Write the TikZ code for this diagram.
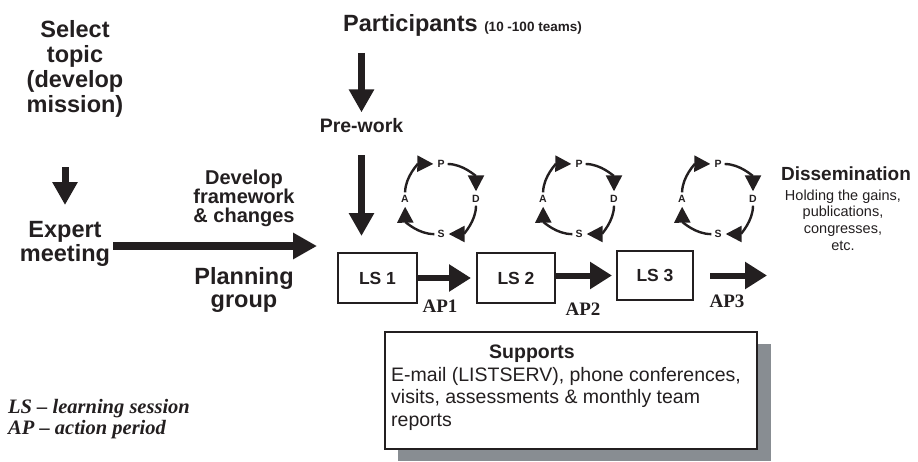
\documentclass[tikz,border=0pt]{standalone}
\usepackage{fontspec}
\setmainfont{Liberation Sans}
\newfontfamily\timesfont{Liberation Serif}
\usetikzlibrary{arrows.meta}
\definecolor{ink}{RGB}{35,31,32}
\definecolor{shadowgray}{RGB}{136,141,146}
\begin{document}
\begin{tikzpicture}[x=1pt,y=1pt,
  every node/.style={inner sep=0pt, text=ink},
  bigtxt/.style={font={\bfseries\fontsize{23.5}{25}\selectfont}, align=center},
  midtxt/.style={font={\bfseries\fontsize{20}{18.5}\selectfont}, align=center},
  lsbox/.style={draw=ink, line width=2, font={\bfseries\fontsize{17.5}{20}\selectfont}},
  aplab/.style={font={\timesfont\bfseries\fontsize{19}{22}\selectfont}},
  cyc/.style={circle, minimum size=13pt, font={\bfseries\fontsize{10.5}{12}\selectfont}},
  cycarrow/.style={draw=ink, line width=2.4, -{Triangle[length=16pt,width=16pt]}, shorten >=1pt},
  varrow/.style={draw=ink, line width=7, -{Triangle[length=23pt,width=24pt]}},
  hbig/.style={draw=ink, line width=8, -{Triangle[length=24pt,width=25pt]}},
  lsarrow/.style={draw=ink, line width=6, -{Triangle[length=22pt,width=26pt]}}
]
\useasboundingbox (0,0) rectangle (918,-461);

% left column
\node[bigtxt, anchor=north] (sel) at (75,-19.8) {Select\\topic\\(develop\\mission)};
\node[bigtxt, font={\bfseries\fontsize{23.5}{24}\selectfont}, anchor=north] (expert) at (65,-221) {Expert\\meeting};
\draw[varrow, shorten <=50pt, shorten >=16pt] (expert.north |- sel.south) -- (expert.north);

% planning
\node[midtxt, anchor=north] (devfw) at (244,-169.4) {Develop\\framework\\\& changes};
\node[bigtxt, font={\bfseries\fontsize{23.5}{23}\selectfont}, anchor=north] (plan) at (244,-267) {Planning\\group};
\coordinate (fw) at (317,-246);
\draw[hbig, shorten <=3pt] (expert.east |- fw) -- (fw);

% participants
\node[font={\bfseries\fontsize{23.5}{25}\selectfont}, anchor=base west] (part) at (343,-31.7)
  {Participants {\fontsize{13.5}{15}\selectfont (10 -100 teams)}};
\node[font={\bfseries\fontsize{19.5}{22}\selectfont}, anchor=base] (prework) at (361.5,-132.7) {Pre-work};
\draw[varrow, shorten <=16pt, shorten >=6pt] (part.south -| prework.north) -- (prework.north);

% learning sessions
\node[lsbox, minimum width=79pt, minimum height=50pt] (ls1) at (377.5,-278) {LS 1};
\node[lsbox, minimum width=78pt, minimum height=50pt] (ls2) at (516,-278) {LS 2};
\node[lsbox, minimum width=76pt, minimum height=49pt] (ls3) at (655,-275.5) {LS 3};
\draw[varrow, shorten <=22pt, shorten >=16pt] (prework.south) -- (prework.south |- ls1.north);
\draw[lsarrow, shorten >=5pt] (ls1.east) -- (ls2.west);
\draw[lsarrow, shorten >=4pt] (ls2.east |- ls3.west) -- (ls3.west);
\coordinate (ap3end) at (767,-275.5);
\draw[lsarrow, shorten <=16pt] (ls3.east) -- (ap3end);
\node[aplab] (ap1) at (440,-306) {AP1};
\node[aplab] (ap2) at (583,-309) {AP2};
\node[aplab] (ap3) at (727,-301) {AP3};

% PDSA cycles
\foreach \i/\cx in {1/441,2/579,3/718}{
  \node[cyc] (P\i) at (\cx,-164) {P};
  \node[cyc] (D\i) at (\cx+35,-199) {D};
  \node[cyc] (S\i) at (\cx,-234) {S};
  \node[cyc] (A\i) at (\cx-36,-199) {A};
  \draw[cycarrow] (P\i) to[bend left=45] (D\i);
  \draw[cycarrow] (D\i) to[bend left=45] (S\i);
  \draw[cycarrow] (S\i) to[bend left=45] (A\i);
  \draw[cycarrow] (A\i) to[bend left=45] (P\i);
}

% dissemination
\node[font={\bfseries\fontsize{19}{22}\selectfont}, anchor=base] (diss) at (846,-180) {Dissemination};
\node[font={\fontsize{14.5}{16.7}\selectfont}, align=center, anchor=north] (dissb) at (843,-189.4)
  {Holding the gains,\\publications,\\congresses,\\etc.};

% supports
\fill[shadowgray] (398,-344) rectangle (771,-461);
\node[draw=ink, line width=2.2, fill=white, minimum width=372pt, minimum height=117pt] (sup) at (571,-390.5) {};
\node[font={\bfseries\fontsize{19.5}{22}\selectfont}, anchor=base] (suptitle) at (532,-358) {Supports};
\node[font={\fontsize{19.5}{22.5}\selectfont}, align=left, anchor=north west] (supbody) at (391,-367) 
  {E-mail (LISTSERV), phone conferences,\\visits, assessments \& monthly team\\reports};

% legend
\node[font={\timesfont\bfseries\itshape\fontsize{20.5}{21.3}\selectfont}, align=left, anchor=north west] (legend) at (8,-399)
  {LS – learning session\\AP – action period};
\end{tikzpicture}
\end{document}
